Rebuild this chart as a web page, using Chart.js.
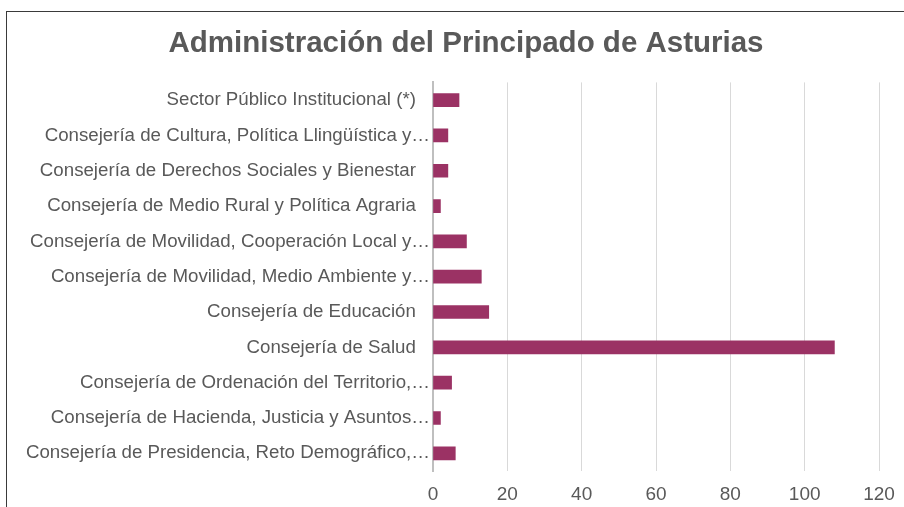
<!DOCTYPE html>
<html>
<head>
<meta charset="utf-8">
<script src="https://cdn.jsdelivr.net/npm/chart.js@4"></script>
<style>
    html, body { margin: 0; padding: 0; background: #fff; overflow: hidden; }
    #frame {
        position: absolute; left: 6px; top: 11px; width: 1000px; height: 600px;
        border: 1.5px solid #3a3a3a;
    }
    #wrap { position: absolute; left: 0; top: 0; width: 904px; height: 507px; }
</style>
</head>
<body>
<div id="frame"></div>
<div id="wrap"><canvas id="chart"></canvas></div>
<script>
    const categories = [
        'Sector Público Institucional (*)',
        'Consejería de Cultura, Política Llingüística y…',
        'Consejería de Derechos Sociales y Bienestar',
        'Consejería de Medio Rural y Política Agraria',
        'Consejería de Movilidad, Cooperación Local y…',
        'Consejería de Movilidad, Medio Ambiente y…',
        'Consejería de Educación',
        'Consejería de Salud',
        'Consejería de Ordenación del Territorio,…',
        'Consejería de Hacienda, Justicia y Asuntos…',
        'Consejería de Presidencia, Reto Demográfico,…'
    ];
    const values = [7, 4, 4, 2, 9, 13, 15, 108, 5, 2, 6];
    const xTicks = [0, 20, 40, 60, 80, 100, 120];

    const textColor = '#595959';
    const fontFamily = '"Liberation Sans", Arial, Helvetica, sans-serif';

    // long category labels run past the y scale box; stop them being clipped
    const unclipLabels = {
        id: 'unclipLabels',
        afterLayout(chart) {
            chart.scales.y.left = 0;
        }
    };

    const ctx = document.getElementById('chart').getContext('2d');
    new Chart(ctx, {
        type: 'bar',
        data: {
            labels: categories,
            datasets: [{
                data: values,
                backgroundColor: '#9B3264',
                barThickness: 13
            }]
        },
        plugins: [unclipLabels],
        options: {
            indexAxis: 'y',
            responsive: true,
            maintainAspectRatio: false,
            animation: false,
            layout: { padding: { left: 28, right: 0, top: 0, bottom: 0 } },
            plugins: {
                legend: { display: false },
                tooltip: { enabled: false },
                title: {
                    display: true,
                    text: 'Administración del Principado de Asturias',
                    color: textColor,
                    font: { family: fontFamily, size: 29.5, weight: 'bold' },
                    padding: { top: 26, bottom: 21 }
                }
            },
            scales: {
                x: {
                    min: 0,
                    max: 120,
                    afterBuildTicks: scale => {
                        scale.ticks = xTicks.map(v => ({ value: v }));
                    },
                    afterFit: scale => {
                        scale.height = 36;
                        scale.paddingRight = 25;
                    },
                    ticks: {
                        color: textColor,
                        font: { family: fontFamily, size: 19 },
                        padding: 12
                    },
                    grid: { color: '#d9d9d9', lineWidth: 1, drawTicks: false },
                    border: { display: false }
                },
                y: {
                    afterFit: scale => { scale.width = 433 - 28; },
                    ticks: {
                        color: textColor,
                        font: { family: fontFamily, size: 18.7 },
                        padding: 3,
                        autoSkip: false,
                        callback: function (value) {
                            const label = this.getLabelForValue(value);
                            return label.endsWith('…') ? label : label + '  \u2009';
                        }
                    },
                    grid: { display: false, drawTicks: false },
                    border: { display: true, color: '#bfbfbf', width: 2 }
                }
            }
        }
    });
</script>
</body>
</html>
